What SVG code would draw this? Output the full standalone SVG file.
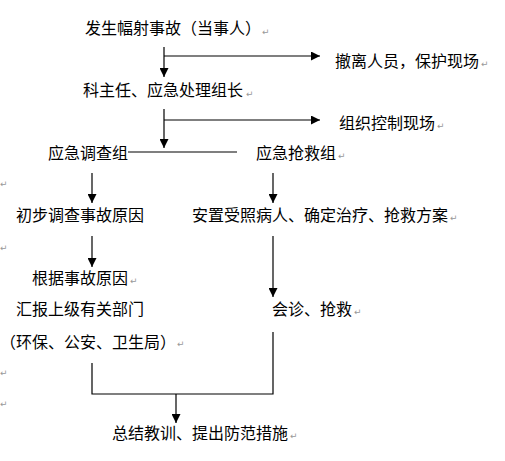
<svg xmlns="http://www.w3.org/2000/svg" width="505" height="461" viewBox="0 0 505 461">
<style>
.t{font-family:"SimSun","Noto Sans CJK SC","Noto Sans CJK TC",sans-serif;font-size:16px;fill:#000}
.r{font-family:"DejaVu Sans",sans-serif;font-size:9px;fill:#999}
.l{stroke:#000;stroke-width:1.2;fill:none}
</style>
<defs>
<marker id="ah" viewBox="0 0 10 10" refX="10" refY="5" markerWidth="9" markerHeight="9" markerUnits="userSpaceOnUse" orient="auto">
<path d="M0,0 L10,5 L0,10 z" fill="#000"/>
</marker>
</defs>
<rect width="505" height="461" fill="#fff"/>
<g id="connectors">
<path class="l" d="M164,47 V77" marker-end="url(#ah)"/>
<path class="l" d="M164,56 H320" marker-end="url(#ah)"/>
<path class="l" d="M164,109 V148" marker-end="url(#ah)"/>
<path class="l" d="M164,120 H320" marker-end="url(#ah)"/>
<path class="l" d="M128,152 H237"/>
<path class="l" d="M92,173 V203" marker-end="url(#ah)"/>
<path class="l" d="M273,173 V203" marker-end="url(#ah)"/>
<path class="l" d="M92,236 V267" marker-end="url(#ah)"/>
<path class="l" d="M273,236 V297" marker-end="url(#ah)"/>
<path class="l" d="M92,363 V394 H273 V332"/>
<path class="l" d="M176,394 V423" marker-end="url(#ah)"/>
</g>
<g id="n1"><text class="t" x="85" y="34">发生幅射事故（当事人）</text><text class="r" x="262" y="35">↵</text></g>
<g id="n2"><text class="t" x="335" y="67">撤离人员，保护现场</text><text class="r" x="481" y="67">↵</text></g>
<g id="n3"><text class="t" x="83" y="96">科主任、应急处理组长</text><text class="r" x="246" y="97">↵</text></g>
<g id="n4"><text class="t" x="339" y="129">组织控制现场</text><text class="r" x="437" y="129">↵</text></g>
<g id="n5"><text class="t" x="48" y="159">应急调查组</text></g>
<g id="n6"><text class="t" x="256" y="159">应急抢救组</text><text class="r" x="338" y="159">↵</text></g>
<g id="n7"><text class="t" x="16" y="221">初步调查事故原因</text></g>
<g id="n8"><text class="t" x="192" y="221">安置受照病人、确定治疗、抢救方案</text><text class="r" x="450" y="221">↵</text></g>
<g id="n9"><text class="t" x="32" y="284">根据事故原因</text><text class="r" x="130" y="284">↵</text></g>
<g id="n10"><text class="t" x="16" y="315">汇报上级有关部门</text><text class="t" x="0" y="348">（环保、公安、卫生局）</text><text class="r" x="177" y="347">↵</text></g>
<g id="n11"><text class="t" x="272" y="315">会诊、抢救</text><text class="r" x="354" y="315">↵</text></g>
<g id="n12"><text class="t" x="112" y="439">总结教训、提出防范措施</text><text class="r" x="290" y="439">↵</text></g>
<g id="marks">
<text class="r" x="0" y="187">↵</text>
<text class="r" x="0" y="251">↵</text>
<text class="r" x="0" y="376">↵</text>
<text class="r" x="0" y="407">↵</text>
</g>
</svg>
